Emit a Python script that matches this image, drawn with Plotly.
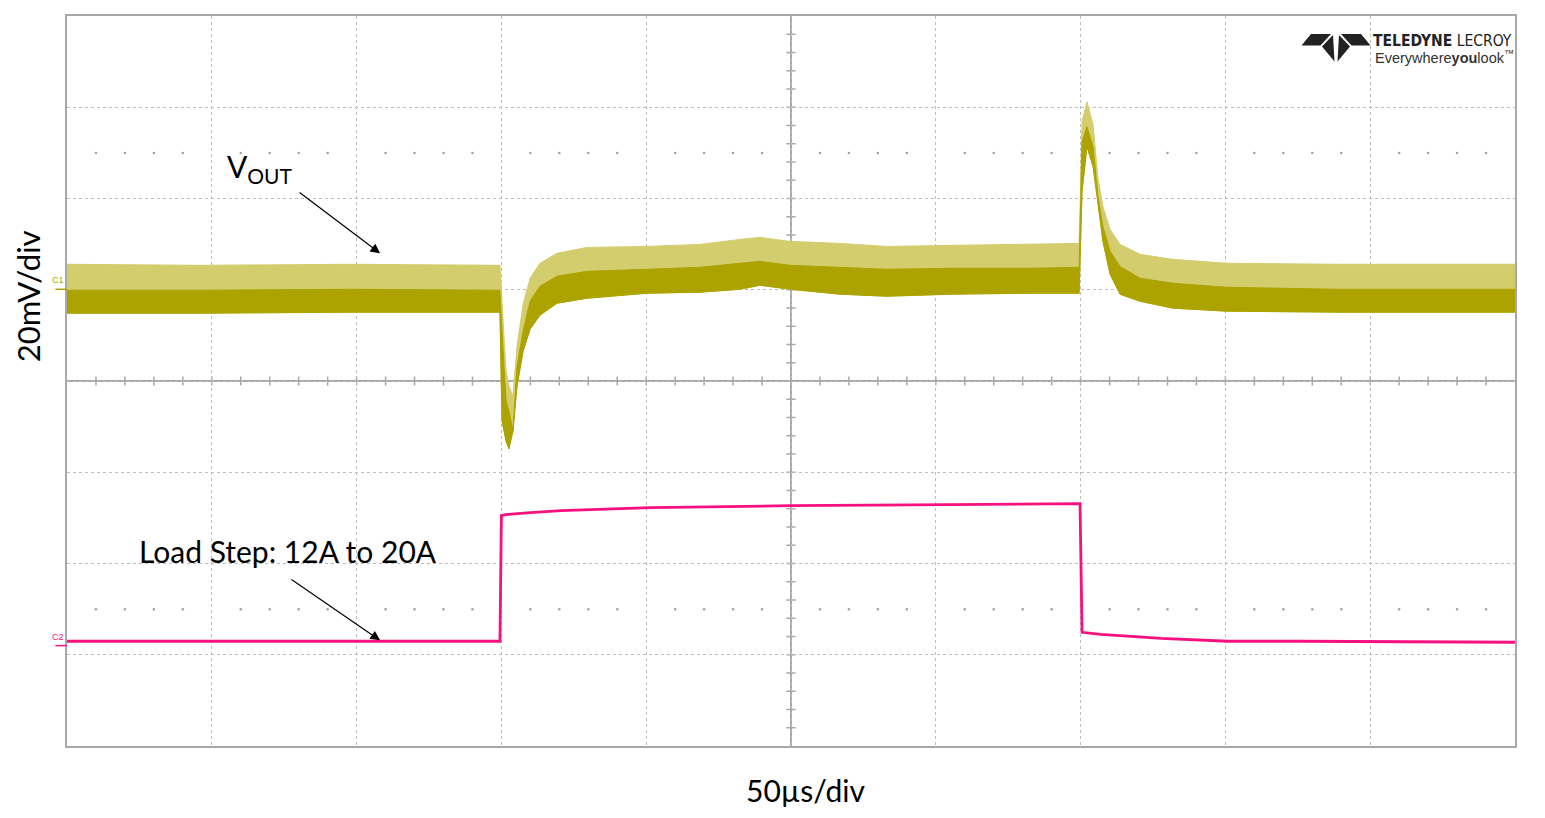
import numpy as np
import plotly.graph_objects as go

# time in microseconds (50 us/div, 10 div), levels in screen divisions (8 div)
vout_t = [0, 45.9, 97.7, 149.5, 150.2, 151.6, 152.6, 154.0, 155.4, 157.5, 159.9,
          163.3, 169.2, 179.6, 200.3, 218.6, 232.4, 239.3, 249.7, 267.0, 283.1,
          304.9, 332.5, 349.5, 350.5, 352.2, 354.3, 356.0, 357.7, 360.2, 363.6,
          370.5, 381.9, 400.5, 439.6, 500]
# tops of the switching spikes
vout_peak = [1.279, 1.268, 1.279, 1.268, 0.874, 0.109, -0.055, -0.164, 0.383, 0.842, 1.126,
             1.290, 1.399, 1.464, 1.475, 1.497, 1.552, 1.574, 1.530, 1.508, 1.475,
             1.486, 1.497, 1.508, 2.842, 3.060, 2.809, 2.219, 1.913, 1.661, 1.497,
             1.388, 1.333, 1.290, 1.279, 1.279]
# top of the dense part of the ripple band
vout_core = [0.995, 0.995, 1.005, 0.995, 0.546, -0.219, -0.328, -0.546, 0.164, 0.546, 0.874,
             1.038, 1.148, 1.202, 1.224, 1.246, 1.290, 1.311, 1.268, 1.246, 1.224,
             1.235, 1.235, 1.246, 2.623, 2.787, 2.568, 2.022, 1.694, 1.421, 1.257,
             1.126, 1.071, 1.027, 1.005, 1.005]
# bottom of the ripple band
vout_low = [0.743, 0.743, 0.754, 0.754, -0.437, -0.656, -0.743, -0.546, -0.055, 0.328, 0.568,
            0.721, 0.852, 0.907, 0.962, 0.973, 1.005, 1.049, 1.005, 0.951, 0.929,
            0.951, 0.962, 0.962, 2.077, 2.568, 2.350, 1.967, 1.530, 1.169, 0.951,
            0.874, 0.798, 0.765, 0.754, 0.754]

iload_t = [0, 60, 120, 149.5, 150.0, 151.4, 160.0, 170.5, 201.6, 250.0, 305.2, 349.8,
           350.5, 357.0, 377.8, 400.9, 426.1, 500]
iload_y = [-2.852, -2.852, -2.852, -2.852, -1.475, -1.464, -1.443, -1.421, -1.388, -1.366,
           -1.355, -1.344, -2.754, -2.776, -2.820, -2.852, -2.852, -2.863]

OLIVE = "#aca300"
OLIVE_LIGHT = "#d3cd6e"
PINK = "#f7107f"
GRID = "#bcbcbc"
FRAME = "#a8a8a8"

fig = go.Figure()

# ripple envelope (spikes) and dense core of the output voltage
fig.add_trace(go.Scatter(x=vout_t + vout_t[::-1], y=vout_peak + vout_low[::-1],
                         fill="toself", fillcolor=OLIVE_LIGHT, mode="lines",
                         line=dict(color=OLIVE_LIGHT, width=1), hoverinfo="skip"))
fig.add_trace(go.Scatter(x=vout_t + vout_t[::-1], y=vout_core + vout_low[::-1],
                         fill="toself", fillcolor=OLIVE, mode="lines",
                         line=dict(color=OLIVE, width=1), hoverinfo="skip"))

# load current
fig.add_trace(go.Scatter(x=iload_t, y=iload_y, mode="lines",
                         line=dict(color=PINK, width=2.8), hoverinfo="skip"))

# dotted marker rows at +/-2.5 div
dot_x = [v for v in np.arange(10, 500, 10) if v % 50 != 0]
for yy in (2.5, -2.5):
    fig.add_trace(go.Scatter(x=dot_x, y=[yy] * len(dot_x), mode="markers",
                             marker=dict(size=2.5, color="#a0a0a0"), hoverinfo="skip"))

# trigger markers
fig.add_trace(go.Scatter(x=[150], y=[-4.08], mode="markers", cliponaxis=False,
                         marker=dict(symbol="triangle-up", size=9, color=PINK)))
fig.add_trace(go.Scatter(x=[501.8], y=[-1.913], mode="markers", cliponaxis=False,
                         marker=dict(symbol="triangle-left", size=9, color=PINK)))

shapes = []
# centre cross with minor ticks
shapes.append(dict(type="line", x0=250, x1=250, y0=-4, y1=4,
                   line=dict(color=FRAME, width=2), layer="below"))
shapes.append(dict(type="line", x0=0, x1=500, y0=0, y1=0,
                   line=dict(color=FRAME, width=2), layer="below"))
for v in np.arange(10, 500, 10):
    shapes.append(dict(type="line", x0=v, x1=v, y0=-0.05, y1=0.05,
                       line=dict(color=FRAME, width=1.5), layer="below"))
for v in np.arange(-3.8, 4, 0.2):
    shapes.append(dict(type="line", x0=248.4, x1=251.6, y0=v, y1=v,
                       line=dict(color=FRAME, width=1.5), layer="below"))

# channel offset marks
shapes.append(dict(type="line", xref="paper", yref="y", x0=-0.008, x1=0,
                   y0=1.005, y1=1.005, line=dict(color=OLIVE, width=1.5)))
shapes.append(dict(type="line", xref="paper", yref="y", x0=-0.008, x1=0,
                   y0=-2.9, y1=-2.9, line=dict(color=PINK, width=1.5)))

# logo icon (pixel positions converted to paper)
def px(xp, yp):
    return (xp - 67) / 1448, (746 - yp) / 732

logo_polys = [
    [(1301.5, 43.5), (1311, 32), (1331, 32), (1320.5, 43.5)],
    [(1322, 44.5), (1333, 33), (1334.5, 59.5)],
    [(1350, 44.5), (1339, 33), (1337.5, 59.5)],
    [(1370.5, 43.5), (1361, 32), (1341, 32), (1351.5, 43.5)],
]
for poly in logo_polys:
    pts = [px(a, b) for a, b in poly]
    path = "M " + " L ".join(f"{a:.5f},{b:.5f}" for a, b in pts) + " Z"
    shapes.append(dict(type="path", xref="paper", yref="paper", path=path,
                       fillcolor="#222222", line=dict(width=0)))

TXT = "Lato, Carlito, Calibri, sans-serif"
annotations = [
    dict(text="20mV/div", xref="paper", yref="paper", x=px(28, 0)[0], y=px(0, 295)[1],
         xanchor="center", yanchor="middle",
         textangle=-90, showarrow=False, font=dict(family=TXT, size=31, color="black")),
    dict(text="50µs/div", xref="paper", yref="paper", x=px(805, 0)[0], y=px(0, 790)[1],
         xanchor="center", yanchor="middle",
         showarrow=False, font=dict(family=TXT, size=30, color="black")),
    dict(text="V<sub>OUT</sub>", x=54.6, y=2.33, xanchor="left", showarrow=False,
         font=dict(family=TXT, size=30, color="black")),
    dict(text="Load Step: 12A to 20A", x=24.2, y=-1.86, xanchor="left", showarrow=False,
         font=dict(family=TXT, size=30, color="black")),
    dict(text="", x=108.1, y=1.399, ax=79.8, ay=2.077, axref="x", ayref="y",
         showarrow=True, arrowhead=2, arrowsize=1.6, arrowwidth=1.2, arrowcolor="black"),
    dict(text="", x=108.1, y=-2.842, ax=77.0, ay=-2.164, axref="x", ayref="y",
         showarrow=True, arrowhead=2, arrowsize=1.6, arrowwidth=1.2, arrowcolor="black"),
    dict(text="C1", xref="paper", yref="y", x=-0.0005, y=1.11, xanchor="right",
         showarrow=False, font=dict(family="Liberation Sans, Arial", size=9, color=OLIVE)),
    dict(text="C2", xref="paper", yref="y", x=-0.0005, y=-2.8, xanchor="right",
         showarrow=False, font=dict(family="Liberation Sans, Arial", size=9, color=PINK)),
    dict(text="<b>TELEDYNE</b> LECROY", xref="paper", yref="paper",
         x=px(1371, 0)[0], y=px(0, 39)[1], xanchor="left", yanchor="middle", showarrow=False,
         font=dict(family="Liberation Sans Narrow, DejaVu Sans Condensed, Arial Narrow, sans-serif",
                   size=15.5, color="#222222")),
    dict(text="Everywhere<b>you</b>look<sup>™</sup>", xref="paper", yref="paper",
         x=px(1373, 0)[0], y=px(0, 55)[1], xanchor="left", yanchor="middle", showarrow=False,
         font=dict(family="Liberation Sans Narrow, Liberation Sans, Arial, sans-serif",
                   size=14.5, color="#333333")),
]

# page body has an 8px margin, so the figure is a little smaller than the window
fig.update_layout(
    width=1537, height=810,
    margin=dict(l=59, r=30, t=6, b=72),
    paper_bgcolor="white", plot_bgcolor="white",
    showlegend=False,
    shapes=shapes,
    annotations=annotations,
    xaxis=dict(range=[0, 500], dtick=50, tick0=0, showticklabels=False, ticks="",
               showgrid=True, gridcolor=GRID, gridwidth=1, griddash="dot",
               zeroline=False, showline=True, mirror=True, linecolor=FRAME, linewidth=2),
    yaxis=dict(range=[-4, 4], dtick=1, tick0=0, showticklabels=False, ticks="",
               showgrid=True, gridcolor=GRID, gridwidth=1, griddash="dot",
               zeroline=False, showline=True, mirror=True, linecolor=FRAME, linewidth=2),
)

fig.write_html("out.html")
